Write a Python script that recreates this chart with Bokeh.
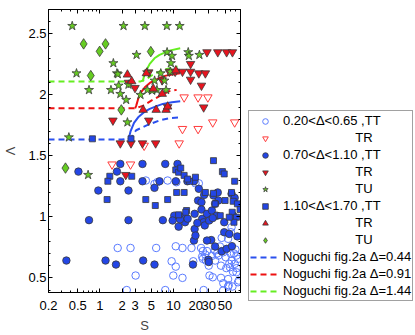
from bokeh.plotting import figure
from bokeh.layouts import row
from bokeh.models import Range1d, LogAxis, LinearAxis, FixedTicker, Legend, LegendItem
from bokeh.embed import file_html
from bokeh.resources import INLINE

# ---------------- data ----------------
xticks = [0.2, 0.5, 1, 2, 3, 5, 10, 20, 30, 50]
xtick_labels = ["0.2", "0.5", "1", "2", "3", "5", "10", "20", "30", "50"]
xminor = [0.3, 0.4, 0.6, 0.7, 0.8, 0.9, 4, 6, 7, 8, 9, 40, 60, 70, 80]
yticks = [0.5, 1, 1.5, 2, 2.5]
ytick_labels = ["0.5", "1", "1.5", "2", "2.5"]
yminor = [0.4, 0.6, 0.7, 0.8, 0.9, 1.1, 1.2, 1.3, 1.4, 1.6, 1.7, 1.8, 1.9,
          2.1, 2.2, 2.3, 2.4, 2.6]

# 0.20<D<0.65 , TT (open circles)
tt020_s = [1.74, 2.6, 5.8, 3.05, 2.31, 7.7, 25.6, 9.9, 13.2, 9.4, 10.7, 10.7, 13.2, 17.5,
           23.6, 18.5, 25, 30.7, 34, 44, 47.3, 55, 63, 75, 77, 24.4, 27, 27.5, 36.6, 42.6,
           45, 47.3, 51, 60, 61.2, 67.5, 71.4, 57, 58.2, 36.6, 40.6, 61.2, 60, 55, 75, 66,
           45, 39, 28.4, 47, 4.2, 6.0, 8.3, 10.9, 19.8, 22, 5.5, 33.1, 64, 72, 52, 44, 30,
           25, 69, 71.4, 55, 56]
tt020_l = [0.745, 0.745, 0.745, 0.519, 0.40, 0.40, 0.40, 0.519, 0.50, 0.636, 0.592, 0.759,
           0.745, 0.745, 0.745, 0.636, 0.656, 0.519, 0.505, 0.50, 0.456, 0.429, 0.429, 0.464,
           0.478, 0.674, 0.69, 0.642, 0.724, 0.757, 0.828, 0.71, 0.669, 0.697, 0.642, 0.615,
           0.683, 0.615, 0.587, 0.642, 0.683, 0.915, 0.874, 0.82, 0.656, 0.70, 0.72, 0.70,
           0.72, 0.396, 1.298, 1.284, 1.298, 1.284, 1.275, 1.275, 1.27, 0.68, 0.55, 0.58,
           0.58, 0.60, 0.60, 0.72, 0.733, 0.546, 0.49, 0.44]

# 0.20<D<0.65 , TR (open down triangles)
tr020_s = [13.9, 21.5, 29.2, 34, 67.5, 13.2, 21.5, 11.9, 3.98, 1.46, 2.6]
tr020_l = [1.98, 1.98, 1.98, 1.775, 1.775, 1.721, 1.721, 1.603, 1.584, 1.43, 1.43]

# 0.70<D<1.10 , TT (filled circles)
tt070_s = [1.89, 3.78, 7.7, 11.3, 0.51, 1.70, 1.89, 0.95, 2.44, 3.78, 5.5, 6.44, 10.7, 15.4,
           18.9, 22, 0.71, 2.44, 7.14, 0.35, 1.19, 1.65, 3.86, 5.5, 18.3,
           10.2, 9.7, 11.7, 13.2, 14.3, 19.3, 19.3, 18.9, 19.8, 21.5, 23.9, 23.9, 24.4, 25.6,
           26.5, 28.4, 30.4, 32.4, 29.7, 34.8, 39.8, 40.6, 36.6, 33.1, 38.6, 48.7, 48.7, 36.6,
           45, 52.5, 57, 61.2, 67.5, 73.5, 64.5, 28.4, 21, 30, 26, 12.2, 15.5, 62, 34]
tt070_l = [1.434, 1.434, 1.434, 1.434, 1.371, 1.371, 1.292, 1.216, 1.216, 1.292, 1.238, 1.292,
           1.292, 1.292, 1.292, 1.23, 0.973, 0.973, 0.973, 0.642, 0.642, 0.609, 0.642, 0.609,
           0.609,
           1.01, 0.97, 0.92, 1.0, 0.956, 1.025, 0.90, 0.806, 0.847, 1.134, 1.12, 1.06, 0.984,
           0.956, 0.93, 1.025, 0.97, 0.81, 0.648, 1.175, 1.20, 1.134, 1.107, 1.052, 1.01,
           0.956, 0.874, 0.757, 0.718, 0.738, 0.86, 1.189, 1.156, 0.84, 1.01, 0.806, 0.95,
           0.63, 1.18, 0.98, 0.985, 0.76, 0.99]

# 0.70<D<1.10 , TR (filled down triangles)
tr070_s = [28.4, 39.8, 52.5, 63, 17, 13.2, 17, 22, 27, 17, 23.9, 25.6, 8.75, 10.5, 2.99, 4.6,
           1.5, 4.6, 1.89, 2.64, 3.78, 5.7, 2.24, 2.44, 7.0, 8.3]
tr070_l = [2.35, 2.35, 2.35, 2.35, 2.254, 2.19, 2.19, 2.177, 2.177, 2.125, 2.076, 1.898, 2.19,
           2.19, 2.057, 2.185, 1.79, 1.79, 1.603, 1.603, 1.603, 1.603, 1.344, 2.10, 2.12, 1.90]

# 0.70<D<1.10 , TU (stars)
tu070_s = [0.42, 2.09, 4.07, 8.1, 12.1, 0.48, 0.71, 1.52, 1.7, 1.41, 1.79, 1.89, 2.27, 2.44,
           3.14, 3.55, 4.37, 5.1, 5.52, 5.94, 6.7, 7.9, 7.5, 8.16, 9.5, 9.2, 9.0, 2.36, 0.378,
           15.8, 16.1, 22.4, 0.69, 1.75, 4.4]
tu070_l = [2.565, 2.565, 2.565, 2.565, 2.565, 2.177, 2.04, 2.26, 2.177, 2.04, 2.076, 2.008,
           1.959, 2.084, 2.328, 2.0, 2.185, 2.035, 2.117, 2.04, 2.177, 2.04, 2.117, 2.35, 2.32,
           2.26, 2.19, 1.775, 1.652, 2.35, 2.32, 2.328, 1.344, 2.17, 2.04]

# 1.10<D<1.70 , TT (squares)
tt110_s = [0.79, 2.64, 34.8, 1.36, 1.28, 2.7, 1.25, 4.19, 5.64, 8.3, 10.7, 11.7, 13.9, 16.5,
           11.0, 13.9, 15, 34.8, 36.6, 46, 48.7, 67.5, 61.2, 64.4, 62.5, 73.5, 80, 71.4, 50,
           27, 19.8, 14.6, 11.7, 66, 57, 43, 12.5, 15.5]
tt110_l = [1.64, 1.64, 1.461, 1.333, 1.292, 1.333, 1.142, 1.142, 1.093, 1.142, 1.385, 1.366,
           1.34, 1.292, 1.20, 1.20, 1.052, 1.193, 1.107, 1.371, 1.352, 1.292, 1.20, 1.128,
           1.038, 1.107, 1.06, 0.997, 1.134, 1.20, 1.325, 1.038, 1.017, 0.956, 0.997, 1.01,
           1.40, 1.31]

# 1.10<D<1.70 , TR (up triangles)
tr110_s = [2.36, 2.7, 4.27, 3.86, 5.8, 7.9, 8.3, 7.0, 10.7, 5.3]
tr110_l = [2.166, 2.111, 2.177, 1.877, 1.877, 1.877, 1.904, 2.008, 2.20, 2.05]

# 1.10<D<1.70 , TU (diamonds)
tu110_s = [0.6, 1.19, 0.99, 0.75, 4.9, 1.95, 0.34]
tu110_l = [2.418, 2.418, 2.357, 2.158, 2.355, 1.877, 1.40]

# Noguchi fig.2a curves (dashed) and solid branches
nog044_s = [0.2, 1, 2, 2.6, 3.1, 4.3, 6.4, 8.8, 12.3]
nog044_l = [1.634, 1.634, 1.634, 1.645, 1.71, 1.75, 1.79, 1.81, 1.816]
nog044b_s = [2.44, 2.6, 2.9, 3.3, 4.0, 4.74, 6.0, 7.14, 9.5, 12.3]
nog044b_l = [1.634, 1.70, 1.77, 1.816, 1.86, 1.885, 1.91, 1.926, 1.94, 1.948]

nog091_s = [0.2, 1, 2, 2.9, 3.4, 3.86, 4.98, 6.44, 8.75, 11]
nog091_l = [1.89, 1.89, 1.89, 1.89, 1.90, 1.912, 1.953, 1.99, 2.03, 2.041]
nog091b_s = [3.0, 3.1, 3.3, 3.6, 4.07, 4.8, 5.5, 6.5, 7.9, 10, 12.3]
nog091b_l = [1.89, 1.91, 1.967, 2.02, 2.062, 2.10, 2.117, 2.14, 2.158, 2.17, 2.177]

nog144_s = [0.2, 1, 2, 3.5, 4.3, 4.98, 7.14, 11.3]
nog144_l = [2.109, 2.109, 2.109, 2.109, 2.13, 2.158, 2.205, 2.232]
nog144b_s = [3.8, 4.07, 4.74, 5.5, 6.44, 8.75, 12.3]
nog144b_l = [2.11, 2.177, 2.254, 2.30, 2.328, 2.363, 2.382]

legend_labels = ["0.20<\u0394<0.65 ,TT", "TR", "0.70<\u0394<1.10 ,TT", "TR", "TU",
                 "1.10<\u0394<1.70 ,TT", "TR", "TU",
                 "Noguchi fig.2a \u0394=0.44", "Noguchi fig.2a \u0394=0.91",
                 "Noguchi fig.2a \u0394=1.44"]

# ---------------- styling ----------------
FONT = "Liberation Sans"
BLUE = "#2346e6"
LBLUE = "#5b7cff"
RED = "#e8141e"
LRED = "#ff3c3c"
GREEN = "#66cc22"
EDGE = "#3a3a3a"
LB = "#2b50ee"
LR = "#ee1111"
LG = "#66ee22"

styles = [
    dict(marker="circle", size=7.5, fill_color=None, line_color=LBLUE, line_width=1),
    dict(marker="inverted_triangle", size=8.5, fill_color=None, line_color=LRED, line_width=1),
    dict(marker="circle", size=7.5, fill_color=BLUE, line_color=EDGE, line_width=0.8),
    dict(marker="inverted_triangle", size=8.5, fill_color=RED, line_color=EDGE, line_width=0.8),
    dict(marker="star", size=9.5, fill_color=GREEN, line_color=EDGE, line_width=0.8),
    dict(marker="square", size=6, fill_color=BLUE, line_color=EDGE, line_width=0.8),
    dict(marker="triangle", size=8.5, fill_color=RED, line_color=EDGE, line_width=0.8),
    dict(marker="diamond", size=10.5, fill_color=GREEN, line_color=EDGE, line_width=0.8),
]
line_styles = [dict(line_color=LB, line_width=2, line_dash="6 4"),
               dict(line_color=LR, line_width=2, line_dash="6 4"),
               dict(line_color=LG, line_width=2, line_dash="6 4")]

p = figure(width=248, height=335, x_axis_type="log",
           x_range=Range1d(0.2, 81), y_range=Range1d(0.38, 2.70),
           output_backend="svg", toolbar_location=None,
           min_border_left=44, min_border_top=9, min_border_bottom=43,
           min_border_right=8)
p.xgrid.visible = False
p.ygrid.visible = False
p.outline_line_color = "black"
p.outline_line_width = 1
p.background_fill_color = "white"
p.border_fill_color = "white"

xt = FixedTicker(ticks=xticks, minor_ticks=xminor)
yt = FixedTicker(ticks=yticks, minor_ticks=yminor)

def style_axis(ax, show_labels=True):
    ax.major_tick_in = 4
    ax.major_tick_out = 0
    ax.minor_tick_in = 2
    ax.minor_tick_out = 0
    ax.axis_line_color = "black"
    ax.major_tick_line_color = "black"
    ax.minor_tick_line_color = "black"
    ax.major_label_text_font = FONT
    if show_labels:
        ax.major_label_text_font_size = "13px"
        ax.major_label_text_color = "black"
    else:
        ax.major_label_text_font_size = "1px"
        ax.major_label_text_color = None
        ax.major_label_standoff = 0

xa = p.xaxis[0]
xa.ticker = xt
xa.major_label_overrides = dict(zip(xticks, xtick_labels))
style_axis(xa)
xa.major_label_standoff = 8
xa.axis_label = "S"
xa.axis_label_text_font = FONT
xa.axis_label_text_font_size = "13px"
xa.axis_label_text_font_style = "normal"
xa.axis_label_standoff = 5

ya = p.yaxis[0]
ya.ticker = yt
ya.major_label_overrides = dict(zip(yticks, ytick_labels))
style_axis(ya)
ya.major_label_standoff = 2
ya.axis_label = "\u039b"
ya.axis_label_text_font = FONT
ya.axis_label_text_font_size = "13px"
ya.axis_label_text_font_style = "normal"
ya.axis_label_standoff = 7

top = LogAxis(ticker=xt)
style_axis(top, False)
p.add_layout(top, "above")
right = LinearAxis(ticker=yt)
style_axis(right, False)
p.add_layout(right, "right")

# ---------------- lines ----------------
p.line(nog044_s, nog044_l, **line_styles[0])
p.line(nog044b_s, nog044b_l, line_color=LB, line_width=2)
p.line(nog091_s, nog091_l, **line_styles[1])
p.line(nog091b_s, nog091b_l, line_color=LR, line_width=2)
p.line(nog144_s, nog144_l, **line_styles[2])
p.line(nog144b_s, nog144b_l, line_color=LG, line_width=2)

# ---------------- markers ----------------
series = [(tt020_s, tt020_l), (tr020_s, tr020_l), (tt070_s, tt070_l), (tr070_s, tr070_l),
          (tu070_s, tu070_l), (tt110_s, tt110_l), (tr110_s, tr110_l), (tu110_s, tu110_l)]
for (sx, sy), st in zip(series, styles):
    p.scatter(sx, sy, **st)

# ---------------- legend panel ----------------
q = figure(width=167, height=335, x_range=Range1d(0, 1), y_range=Range1d(0, 1),
           output_backend="svg", toolbar_location=None,
           x_axis_location=None, y_axis_location=None,
           min_border_left=0, min_border_right=0, min_border_top=0, min_border_bottom=0)
q.xgrid.visible = False
q.ygrid.visible = False
q.outline_line_color = None
q.background_fill_color = "white"
q.border_fill_color = "white"

aligned = True
if "frame_align" in q.properties():
    q.frame_align = False
    aligned = False

nan = float("nan")
handles = [q.scatter([nan], [nan], **st) for st in styles]
handles += [q.line([nan, nan], [nan, nan], **ls) for ls in line_styles]

pad = "\u00a0" * 20
items = []
for lab, r in zip(legend_labels, handles):
    text = pad + lab if lab in ("TR", "TU") else lab
    items.append(LegendItem(label=text, renderers=[r]))

legend = Legend(items=items, location=(0, 0) if aligned else (0, 34))
legend.label_text_font = FONT
legend.label_text_font_size = "13px"
legend.label_text_color = "black"
legend.glyph_width = 30
legend.glyph_height = 14
legend.label_height = 17
legend.spacing = 0
legend.padding = 1
legend.margin = 0
legend.label_standoff = 3
legend.border_line_color = "#444444"
legend.border_line_width = 1
legend.background_fill_color = "white"
legend.background_fill_alpha = 1
q.add_layout(legend)

page = row(p, q)
open("out.html", "w").write(file_html(page, INLINE))
